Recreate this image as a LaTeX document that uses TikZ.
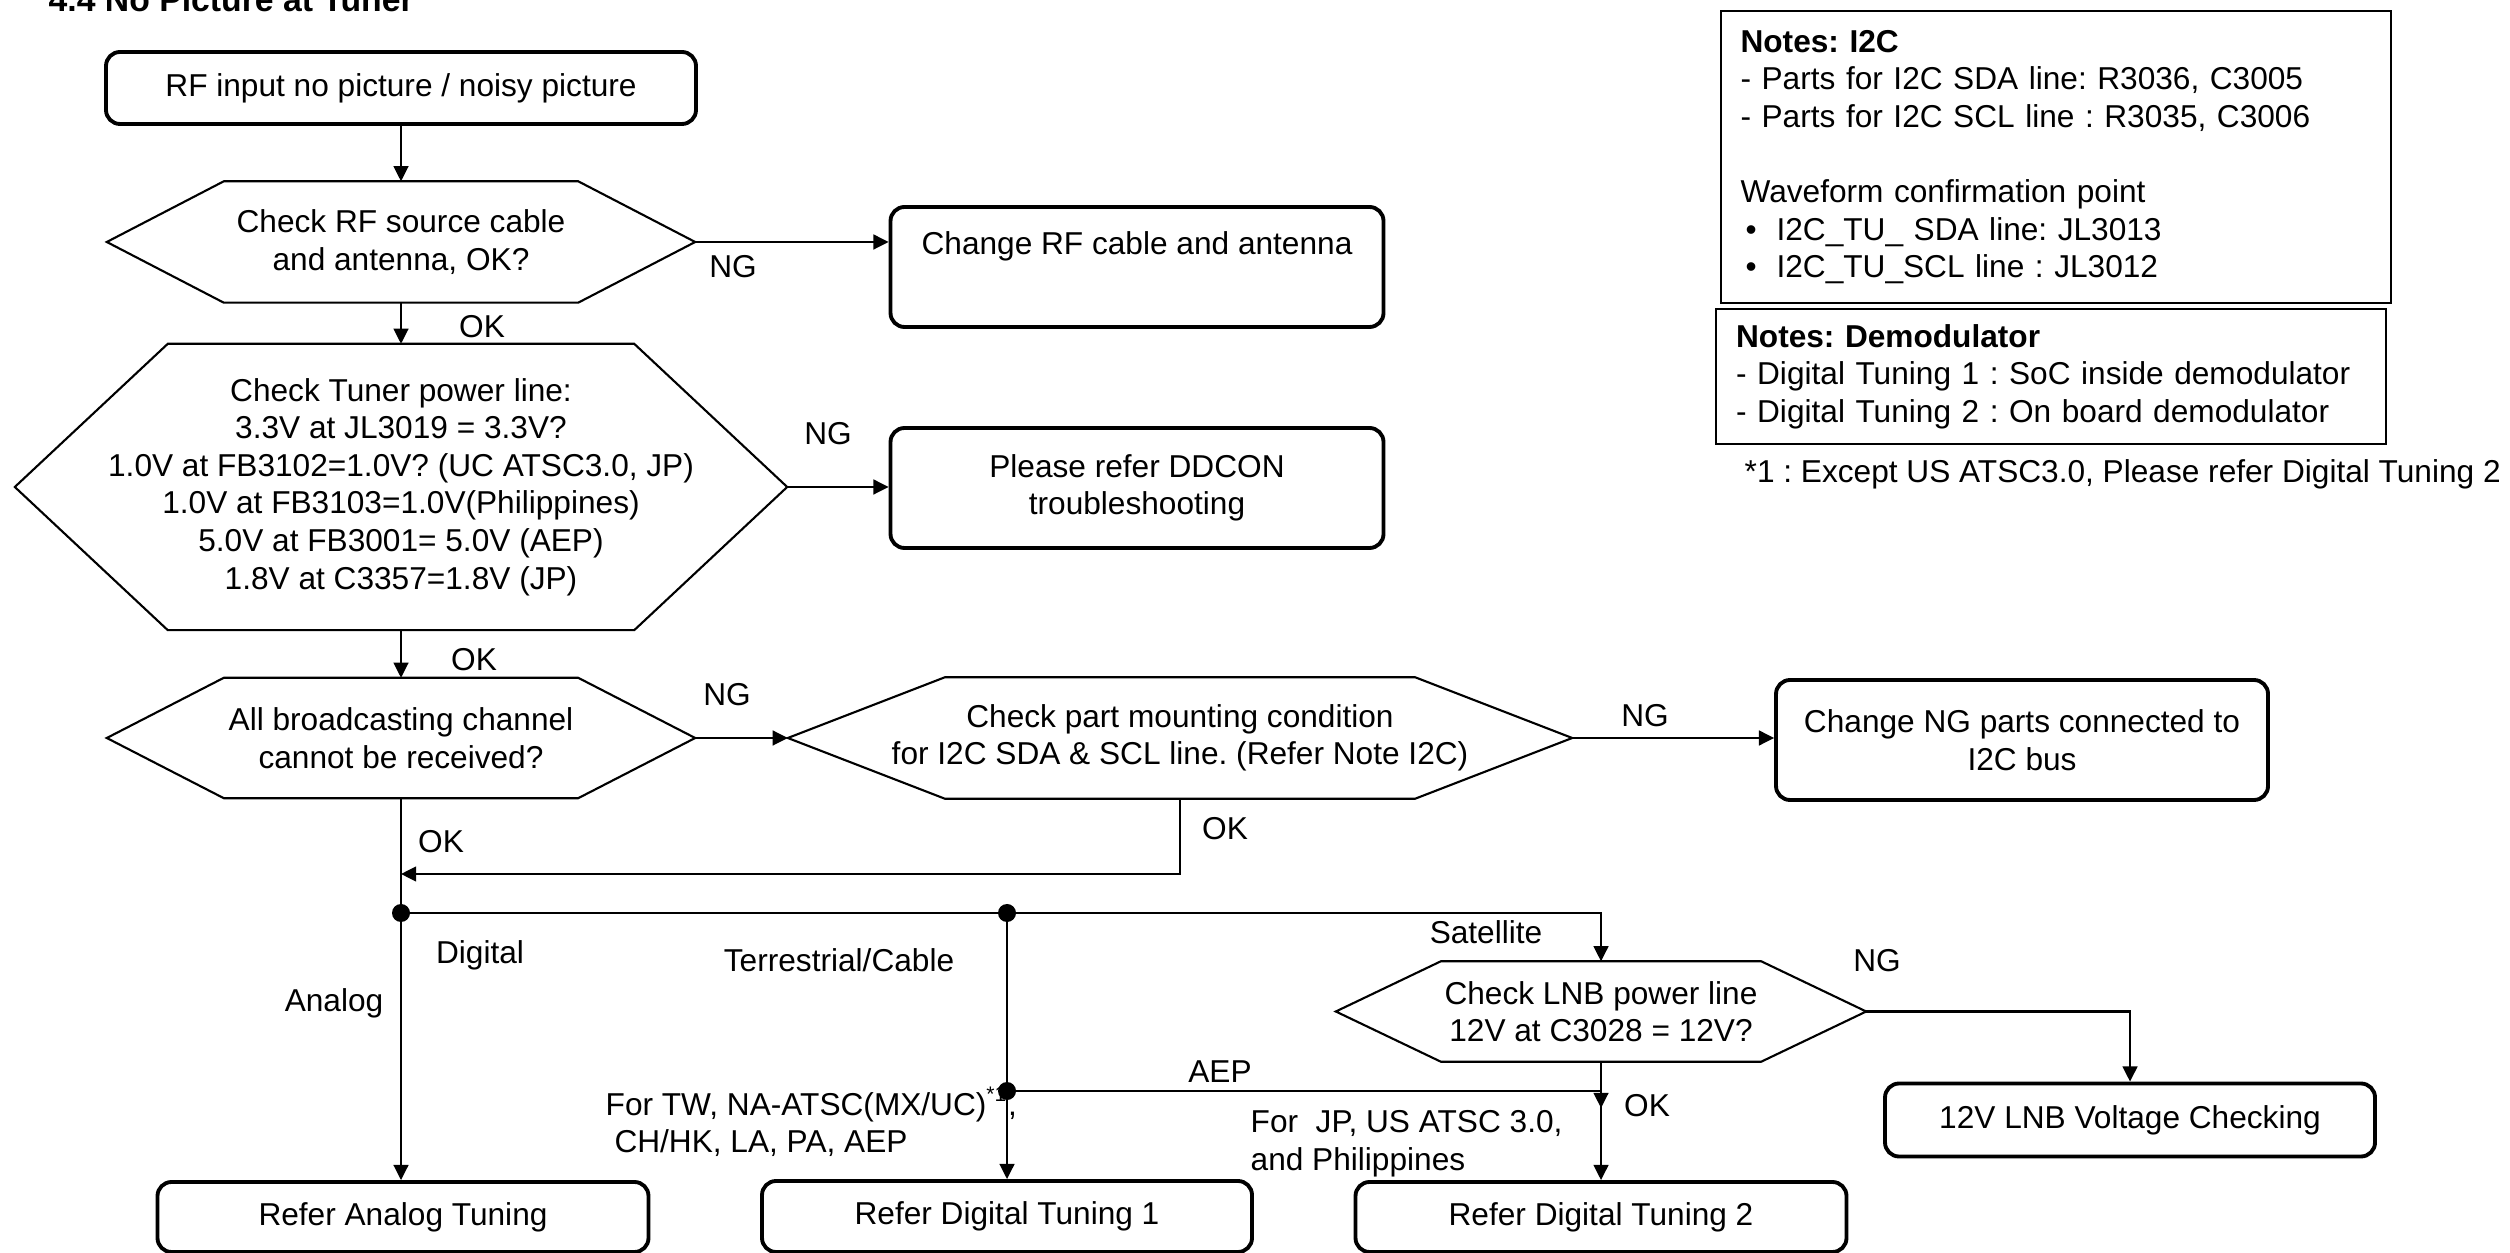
\documentclass[tikz,border=0pt]{standalone}
\usepackage{fontspec}
\setmainfont{Liberation Sans}
\usetikzlibrary{arrows.meta,calc}
\frenchspacing
\newcommand\fnine{\fontsize{9}{10.7}\selectfont}
\tikzset{
  every node/.style={font=\fnine, inner sep=0pt},
  box/.style={draw, line width=1.1pt, rounded corners=1.4mm, align=center},
  hexn/.style={align=center},
  hexline/.style={line width=0.6pt, line join=miter},
  conn/.style={line width=0.6pt},
  arr/.style={conn, -{Triangle[width=4.2pt,length=4.3pt]}},
  note/.style={draw, line width=0.6pt, align=left, anchor=north west},
  dotn/.style={circle, fill, minimum size=1.8mm, inner sep=0pt},
}
\newcommand\hexagon[2]{\draw[hexline] (#1.west) -- ($(#1.north west)+(#2,0)$) -- ($(#1.north east)-(#2,0)$) -- (#1.east) -- ($(#1.south east)-(#2,0)$) -- ($(#1.south west)+(#2,0)$) -- cycle;}
\begin{document}
\frenchspacing
\begin{tikzpicture}[x=0.1mm,y=-0.1mm]
\useasboundingbox (0,0) rectangle (2510,1253);

% title
\node[anchor=base west, font=\fontsize{9.6}{11}\selectfont\bfseries] (title) at (48,12) {4.4 No Picture at Tuner};

% main column
\node[box, minimum width=59mm, minimum height=7.2mm] (b1) at (401,88) {RF input no picture / noisy picture};
\node[hexn, minimum width=58.7mm, minimum height=12mm] (h1) at (401,242) {Check RF source cable\\and antenna, OK?};
\node[hexn, minimum width=77.1mm, minimum height=28.5mm] (h2) at (401,487) {Check Tuner power line:\\3.3V at JL3019 = 3.3V?\\1.0V at FB3102=1.0V? (UC ATSC3.0, JP)\\1.0V at FB3103=1.0V(Philippines)\\5.0V at FB3001= 5.0V (AEP)\\1.8V at C3357=1.8V (JP)};
\node[hexn, minimum width=58.7mm, minimum height=11.9mm] (h3) at (401,738) {All broadcasting channel\\cannot be received?};
\node[hexn, minimum width=78.3mm, minimum height=12mm] (h4) at (1180,738) {Check part mounting condition\\for I2C SDA \& SCL line. (Refer Note I2C)};
\node[hexn, minimum width=52.9mm, minimum height=9.9mm] (h5) at (1601,1011.5) {Check LNB power line\\12V at C3028 = 12V?};

\hexagon{h1}{117}
\hexagon{h2}{153}
\hexagon{h3}{117}
\hexagon{h4}{157}
\hexagon{h5}{105}

% result boxes
\node[box, minimum width=49.3mm, minimum height=12mm] (b2) at (1137,267) {Change RF cable and antenna\\[3pt]\mbox{}};
\node[box, minimum width=49.3mm, minimum height=12mm] (b3) at (1137,488) {Please refer DDCON\\troubleshooting};
\node[box, minimum width=49.2mm, minimum height=12mm] (b4) at (2022,740) {Change NG parts connected to\\I2C bus};
\node[box, minimum width=49mm, minimum height=7.3mm] (b5) at (2130,1120) {12V LNB Voltage Checking};
\node[box, minimum width=49.1mm, minimum height=7mm] (ba) at (403,1217) {Refer Analog Tuning};
\node[box, minimum width=49mm, minimum height=7.1mm] (bd1) at (1007,1216.5) {Refer Digital Tuning 1};
\node[box, minimum width=49.1mm, minimum height=7mm] (bd2) at (1601,1217) {Refer Digital Tuning 2};

% labels
\node (ng1) at (733,267) {NG};
\node (ok1) at (482,327) {OK};
\node (ng2) at (828,434) {NG};
\node (ok2) at (474,660) {OK};
\node (ng3) at (727,695) {NG};
\node (ng4) at (1645,716) {NG};
\node (ok4) at (1225,829) {OK};
\node (ok3) at (441,842) {OK};
\node (ldig) at (480,955) {Digital};
\node (lana) at (334,1003) {Analog};
\node (lter) at (839,960) {Terrestrial/Cable};
\node (lsat) at (1486,932) {Satellite};
\node (ng5) at (1877,961) {NG};
\node (laep) at (1220,1072) {AEP};
\node (ok5) at (1647,1106) {OK};
\node[anchor=west, align=left] (ftw) at (605,1122) {For TW, NA-ATSC(MX/UC)\textsuperscript{*1},\\\hspace*{2.5pt}CH/HK, LA, PA, AEP};
\node[anchor=west, align=left] (fjp) at (1250,1144) {For\ \ JP, US ATSC 3.0,\\and Philippines};

% junctions
\coordinate (j1) at (401,874);
\coordinate (aep) at (1601,1108);
\node[dotn] (d1) at (401,913) {};
\node[dotn] (d2) at (1007,913) {};
\node[dotn] (d3) at (1007,1091) {};

% connectors
\draw[arr] (b1.south) -- (h1.north);
\draw[arr] (h1.south) -- (h2.north);
\draw[arr] (h2.south) -- (h3.north);
\draw[arr] (h3.south) -- (h3.south |- ba.north);
\draw[arr] (h1.east) -- (h1.east -| b2.west);
\draw[arr] (h2.east) -- (h2.east -| b3.west);
\draw[arr] (h3.east) -- (h3.east -| h4.west);
\draw[arr] (h4.east) -- (h4.east -| b4.west);
\draw[arr] (h4.south) |- (j1);
\draw[arr] (d1.center) -| (h5.north);
\draw[arr] (d2.center) -- (bd1.north);
\draw[arr] (d3.center) -| (aep);
\draw[arr] (h5.south) -- (bd2.north);
\draw[arr] (h5.east) -| (b5.north);

% notes
\node[note, minimum width=67mm, minimum height=29.2mm, text width=63.1mm, inner xsep=1.9mm] (n1) at (1720,10) {\textbf{Notes: I2C}\\- Parts for I2C SDA line: R3036, C3005\\- Parts for I2C SCL line : R3035, C3006\\[10.7pt]Waveform confirmation point\\\hspace*{0.5mm}\makebox[3.1mm][l]{•}I2C\_TU\_ SDA line: JL3013\\\hspace*{0.5mm}\makebox[3.1mm][l]{•}I2C\_TU\_SCL line : JL3012};
\node[note, minimum width=67mm, minimum height=13.5mm, text width=63mm, inner xsep=2mm] (n2) at (1715,308) {\textbf{Notes: Demodulator}\\- Digital Tuning 1 : SoC inside demodulator\\- Digital Tuning 2 : On board demodulator};
\node[anchor=west] (fn) at (1744,474) {*1 : Except US ATSC3.0, Please refer Digital Tuning 2};
\end{tikzpicture}
\end{document}
